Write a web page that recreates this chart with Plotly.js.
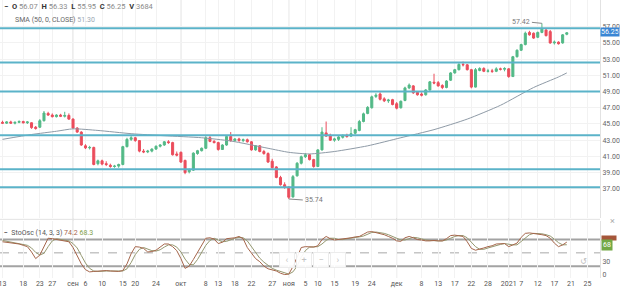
<!DOCTYPE html>
<html><head><meta charset="utf-8">
<script src="https://cdn.plot.ly/plotly-3.0.1.min.js"></script>
<style>html,body{margin:0;padding:0;background:#fff}#chart{width:620px;height:292px}</style>
</head><body><div id="chart"></div>
<script>
const open = [45.2,45.1,45.25,45.1,45.2,45.3,45.15,45.15,44.6,44.6,45.4,46.3,46.1,45.9,46.1,45.95,46.05,45.6,44.5,44.0,
42.3,42.05,42.1,40.1,40.45,40.1,39.9,39.75,39.8,40.0,42.2,43.1,43.3,42.95,41.65,41.55,41.65,41.9,42.25,42.4,
42.8,42.7,41.3,41.5,40.5,39.1,39.3,41.35,41.7,42.0,43.3,42.85,42.7,41.85,42.4,43.45,42.95,43.15,42.95,43.05,
42.8,41.8,42.3,41.6,41.35,40.4,39.7,38.4,37.5,37.2,36.0,38.6,40.15,40.95,41.2,40.6,39.75,41.8,43.9,43.6,
43.0,43.1,43.35,43.6,43.5,43.85,44.2,45.3,46.3,47.0,48.4,48.7,48.1,47.85,48.0,47.5,47.0,47.9,49.45,49.7,
48.9,48.7,48.6,49.2,50.15,50.1,49.75,49.5,50.4,51.3,51.7,52.35,52.3,51.7,49.55,51.6,51.85,51.5,51.55,51.5,
51.8,51.75,51.8,50.85,53.3,54.1,54.8,56.3,56.2,55.7,56.3,56.6,56.4,55.0,55.1,55.0,56.07];
const high = [45.4,45.35,45.4,45.3,45.45,45.4,45.35,45.2,44.75,45.6,46.6,46.5,46.3,46.2,46.25,46.5,46.3,45.7,44.6,44.1,
42.5,42.3,42.2,40.6,40.6,40.4,40.1,39.95,40.1,42.3,43.3,43.5,43.4,43.0,41.9,41.8,42.0,42.35,42.5,42.9,
43.0,42.8,41.6,41.6,40.6,39.5,41.5,41.8,42.1,43.5,43.5,43.0,42.8,42.5,43.6,44.0,43.25,43.3,43.2,43.2,
42.9,42.4,42.4,41.8,41.5,40.7,39.8,38.6,37.8,37.3,38.7,40.3,41.1,41.4,41.3,40.7,41.9,44.6,45.3,43.8,
43.3,43.5,43.7,43.8,44.6,44.4,45.5,46.4,47.2,48.5,48.8,48.9,48.3,48.1,48.1,47.7,47.9,49.6,50.0,49.8,
49.0,48.9,49.3,50.3,51.2,50.3,49.9,50.4,51.4,51.8,52.5,52.7,52.4,51.8,51.9,52.0,52.0,51.8,51.8,52.0,
51.95,52.0,51.9,53.4,54.2,54.9,56.4,56.5,56.3,56.4,57.42,56.8,56.6,55.3,55.2,56.1,56.33];
const low = [45.0,45.0,45.05,44.95,45.1,45.05,45.0,44.4,44.3,44.5,45.3,46.0,45.8,45.8,45.85,45.8,45.5,44.4,43.9,42.3,
41.9,41.85,39.9,39.9,39.9,39.8,39.6,39.6,39.6,39.9,42.1,42.9,42.8,41.5,41.4,41.4,41.5,41.8,42.1,42.3,
42.55,41.1,41.0,40.2,38.8,38.9,39.2,41.2,41.6,41.9,42.75,42.6,41.7,41.8,42.3,42.8,42.8,42.8,42.75,42.7,
41.7,41.7,41.5,41.2,40.2,39.5,38.3,37.4,37.0,35.74,35.9,38.5,40.0,40.8,40.5,39.6,39.7,41.7,43.4,42.9,
42.8,42.9,43.2,43.3,43.4,43.7,44.1,45.2,46.2,46.9,48.2,47.9,47.7,47.6,47.3,46.8,46.9,47.8,49.3,48.7,
48.5,48.4,48.5,49.1,49.9,49.6,49.3,49.4,50.3,51.2,51.6,52.1,51.6,49.4,49.5,51.5,51.4,51.35,51.3,51.4,
51.6,51.5,50.7,50.8,53.2,54.0,54.7,55.9,55.5,55.6,56.2,55.8,54.9,54.8,54.8,54.9,55.95];
const close = [45.1,45.25,45.1,45.2,45.3,45.15,45.25,44.55,44.45,45.4,46.35,46.1,45.9,46.1,45.95,46.05,45.6,44.5,44.0,42.4,
42.05,42.1,40.0,40.45,40.05,40.0,39.75,39.8,40.0,42.2,43.1,43.3,42.95,41.65,41.55,41.65,41.9,42.25,42.4,42.8,
42.7,41.2,41.15,40.3,39.0,39.3,41.4,41.7,42.0,43.3,42.85,42.7,41.85,42.4,43.45,42.95,43.15,42.95,43.05,42.8,
41.8,42.3,41.6,41.35,40.3,39.6,38.4,37.5,37.2,35.95,38.5,40.15,40.95,41.2,40.6,39.75,41.8,44.0,43.5,43.0,
43.15,43.4,43.6,43.45,43.8,44.3,45.3,46.25,47.05,48.35,48.55,48.05,47.85,47.95,47.4,46.95,47.8,49.45,49.8,48.85,
48.6,48.55,49.2,50.2,50.05,49.7,49.5,50.3,51.3,51.7,52.35,52.3,51.7,49.55,51.7,51.85,51.5,51.55,51.5,51.8,
51.75,51.85,50.85,53.3,54.1,54.8,56.2,56.0,55.6,56.3,56.7,55.9,55.0,55.1,54.9,56.0,56.25];

const smaBar = [0,7,13,17,23,31,39,48,55,64,69,74,80,88,96,104,112,120,128,134,136];
const smaVal = [43.1,43.7,44.1,44.4,44.2,43.8,43.55,43.3,42.9,42.0,41.5,41.3,41.6,42.3,43.3,44.3,45.6,47.3,49.5,50.8,51.3];

const stochK = [75,74,72,71,70,67,64,52,37,45,65,83,82,80,79,77,75,62,45,25,
12,7,8,9,9,10,9,9,8,10,25,48,64,63,60,52,53,56,63,70,
70,64,55,37,15,20,35,50,68,83,84,81,71,74,82,83,84,87,82,62,
48,37,30,20,14,11,9,4,1,2,19,40,62,64,64,63,66,80,87,82,
79,80,82,83,84,86,87,92,97,98,96,94,91,87,83,77,76,84,87,84,
80,79,77,77,78,77,77,82,89,90,89,87,75,60,56,58,61,64,66,70,
71,71,64,68,72,85,94,95,94,93,91,89,83,72,64,68,74.2];
const stochD = [78,76,74,72,71,69,67,61,51,45,49,64,77,82,80,79,77,71,61,44,
27,15,9,8,9,9,9,9,9,9,14,28,46,58,62,58,55,54,57,63,
68,68,63,52,36,24,23,35,51,67,78,83,79,75,76,80,83,85,84,77,
64,49,38,29,21,15,11,8,5,2,7,20,40,55,63,64,64,70,78,83,
83,80,80,82,83,84,86,88,92,96,97,96,94,91,87,82,79,79,82,85,
84,81,79,78,77,77,77,79,83,87,89,89,84,74,64,58,58,61,64,67,
69,71,69,68,68,75,84,91,94,94,93,91,88,81,73,68,68.3];

const levelLines = [56.8, 52.6, 49.0, 43.6, 39.4, 37.2];
const stochLevels = [80, 50, 20];
const tickBar = [0,5,9,12,17,20,24,29,32,37,43,49,52,56,60,65,69,73,76,80,85,89,95,101,105,109,113,117,122,125,129,133,137,141];
const tickText = ['13','18','23','27','сен','6','10','15','20','24','окт','8','13','18','22','27','ноя','5','10','15','19','24','дек','8','13','17','22','28','2021','7','12','17','21','25'];
const monthLabels = ['сен','окт','ноя','дек','2021'];
const priceTicks = [37,39,41,43,45,47,49,51,53,55,57];
const stochTicks = [0, 30];

const bars = open.map((_, i) => i);
const last = bars.length - 1;
const hiIdx = high.indexOf(Math.max(...high));
const loIdx = low.indexOf(Math.min(...low));

const traces = [
  {type:'candlestick', x:bars, open:open, high:high, low:low, close:close, xaxis:'x', yaxis:'y',
   increasing:{line:{color:'#53b987', width:1}, fillcolor:'#53b987'},
   decreasing:{line:{color:'#eb4d5c', width:1}, fillcolor:'#eb4d5c'},
   whiskerwidth:0, hoverinfo:'skip'},
  {type:'scatter', mode:'lines', x:smaBar, y:smaVal, xaxis:'x', yaxis:'y',
   line:{color:'#8e9aa6', width:1, shape:'spline', smoothing:0.6}, hoverinfo:'skip'},
  {type:'scatter', mode:'lines', x:bars, y:stochD, xaxis:'x', yaxis:'y2',
   line:{color:'#959870', width:1}, hoverinfo:'skip'},
  {type:'scatter', mode:'lines', x:bars, y:stochK, xaxis:'x', yaxis:'y2',
   line:{color:'#a5654a', width:1}, hoverinfo:'skip'}
];

const shapes = [];
monthLabels.forEach(m => {
  const xv = tickBar[tickText.indexOf(m)];
  shapes.push({type:'line', xref:'x', yref:'paper', x0:xv, x1:xv, y0:0, y1:1, line:{color:'#d9d9d9', width:1}, layer:'below'});
});
levelLines.forEach(v => shapes.push({type:'line', xref:'paper', yref:'y', x0:0, x1:1, y0:v, y1:v, line:{color:'#5bb3c9', width:2}}));
stochLevels.forEach((v, k) => shapes.push({type:'line', xref:'paper', yref:'y2', x0:0, x1:1, y0:v, y1:v,
  line:{color: k === 1 ? '#a8a8a8' : '#a3a3a3', width: k === 1 ? 1 : 2, dash: k === 1 ? 'dash' : 'solid'}, layer:'below'}));
shapes.push({type:'line', xref:'paper', yref:'paper', x0:0, x1:1, y0:0.211, y1:0.211, line:{color:'#e3e3e3', width:1}});

const gray = '#8a8a8a';
const annotations = [
  {xref:'paper', yref:'paper', x:0.004, y:0.976, xanchor:'left', yanchor:'middle', showarrow:false,
   font:{size:7.5, color:'#333'},
   text:'<b>−</b>  <b>O</b> <span style="color:'+gray+'">'+open[last].toFixed(2)+'</span>  <b>H</b> <span style="color:'+gray+'">'+high[last].toFixed(2)+
        '</span>  <b>L</b> <span style="color:'+gray+'">'+low[last].toFixed(2)+'</span>  <b>C</b> <span style="color:'+gray+'">'+close[last].toFixed(2)+
        '</span>  <b>V</b> <span style="color:'+gray+'">3684</span>'},
  {xref:'paper', yref:'paper', x:0.022, y:0.929, xanchor:'left', yanchor:'middle', showarrow:false,
   font:{size:7, color:'#666'},
   text:'SMA (50, 0, CLOSE) <span style="color:#9aa7b3">'+smaVal[smaVal.length-1].toFixed(2)+'</span>'},
  {xref:'paper', yref:'paper', x:0.004, y:0.162, xanchor:'left', yanchor:'middle', showarrow:false,
   font:{size:7, color:'#555'},
   text:'<b>−</b>  StoOsc (14, 3, 3) <span style="color:#a5654a">'+stochK[last].toFixed(1)+'</span> <span style="color:#7fa04a">'+stochD[last].toFixed(1)+'</span>'},
  {xref:'x', yref:'y', x:hiIdx, y:high[hiIdx], text:high[hiIdx].toFixed(2), showarrow:true, arrowhead:0,
   arrowwidth:1, arrowcolor:'#888', ax:-10, ay:-1, font:{size:7, color:'#777'}, xanchor:'right'},
  {xref:'x', yref:'y', x:loIdx, y:low[loIdx], text:low[loIdx].toFixed(2), showarrow:true, arrowhead:0,
   arrowwidth:1, arrowcolor:'#888', ax:14, ay:1, font:{size:7, color:'#777'}, xanchor:'left'},
  {xref:'paper', yref:'y', x:1, y:close[last], xanchor:'left', yanchor:'middle', yshift:1, showarrow:false,
   text:close[last].toFixed(2), bgcolor:'#3a86d4', borderpad:0, height:8, font:{size:7, color:'#fff'}},
  {xref:'paper', yref:'y2', x:1.002, y:stochK[last] + 3, xanchor:'left', yanchor:'bottom', showarrow:false,
   text:' ', bgcolor:'#a5563a', borderpad:0, font:{size:3, color:'#fff'}, width:14},
  {xref:'paper', yref:'y2', x:1.002, y:stochD[last], xanchor:'left', yanchor:'middle', showarrow:false,
   text:String(Math.round(stochD[last])), bgcolor:'#73a845', borderpad:1, font:{size:7, color:'#fff'}},
  {xref:'paper', yref:'paper', x:1.028, y:0.18, showarrow:false, text:'×', font:{size:9, color:'#aaa'}},
  {xref:'paper', yref:'paper', x:0.982, y:0.035, showarrow:false, text:'↺', font:{size:8, color:'#bbb'}}
];
['‹','+','−','›'].forEach((t, k) => annotations.push({xref:'paper', yref:'paper', x:(287 + k*17)/600, y:0.035,
  showarrow:false, text:t, font:{size:9, color:'#c4c4c4'}, bgcolor:'rgba(255,255,255,0.92)', bordercolor:'#ececec',
  borderwidth:1, borderpad:2, width:10}));

const layout = {
  width:620, height:292, margin:{l:0, r:20, t:0, b:14},
  paper_bgcolor:'#fff', plot_bgcolor:'#fff', showlegend:false,
  font:{family:'Roboto, "DejaVu Sans", sans-serif', size:7, color:'#555'},
  xaxis:{range:[-0.6, 144], anchor:'y2', tickmode:'array', tickvals:tickBar, ticktext:tickText,
    showgrid:true, gridcolor:'#f2f2f2', gridwidth:1, zeroline:false, showline:false, ticks:'',
    ticklabeloverflow:'allow', tickfont:{size:7, color:'#555'}, rangeslider:{visible:false}, fixedrange:true},
  yaxis:{domain:[0.216, 1], range:[33.4, 60.3], side:'right', tickmode:'array', tickvals:priceTicks,
    tickformat:'.2f', showgrid:true, gridcolor:'#f2f2f2', zeroline:false, showline:true, linecolor:'#e2e2e2',
    ticks:'', ticklabeloverflow:'allow', tickfont:{size:7, color:'#666'}},
  yaxis2:{domain:[0, 0.205], range:[-6.8, 121.9], side:'right', tickmode:'array', tickvals:stochTicks,
    showgrid:false, zeroline:false, showline:true, linecolor:'#e2e2e2', ticks:'', ticklabeloverflow:'allow',
    tickfont:{size:7, color:'#666'}},
  shapes:shapes, annotations:annotations
};

Plotly.newPlot('chart', traces, layout, {displayModeBar:false, staticPlot:true});
</script>
</body></html>
